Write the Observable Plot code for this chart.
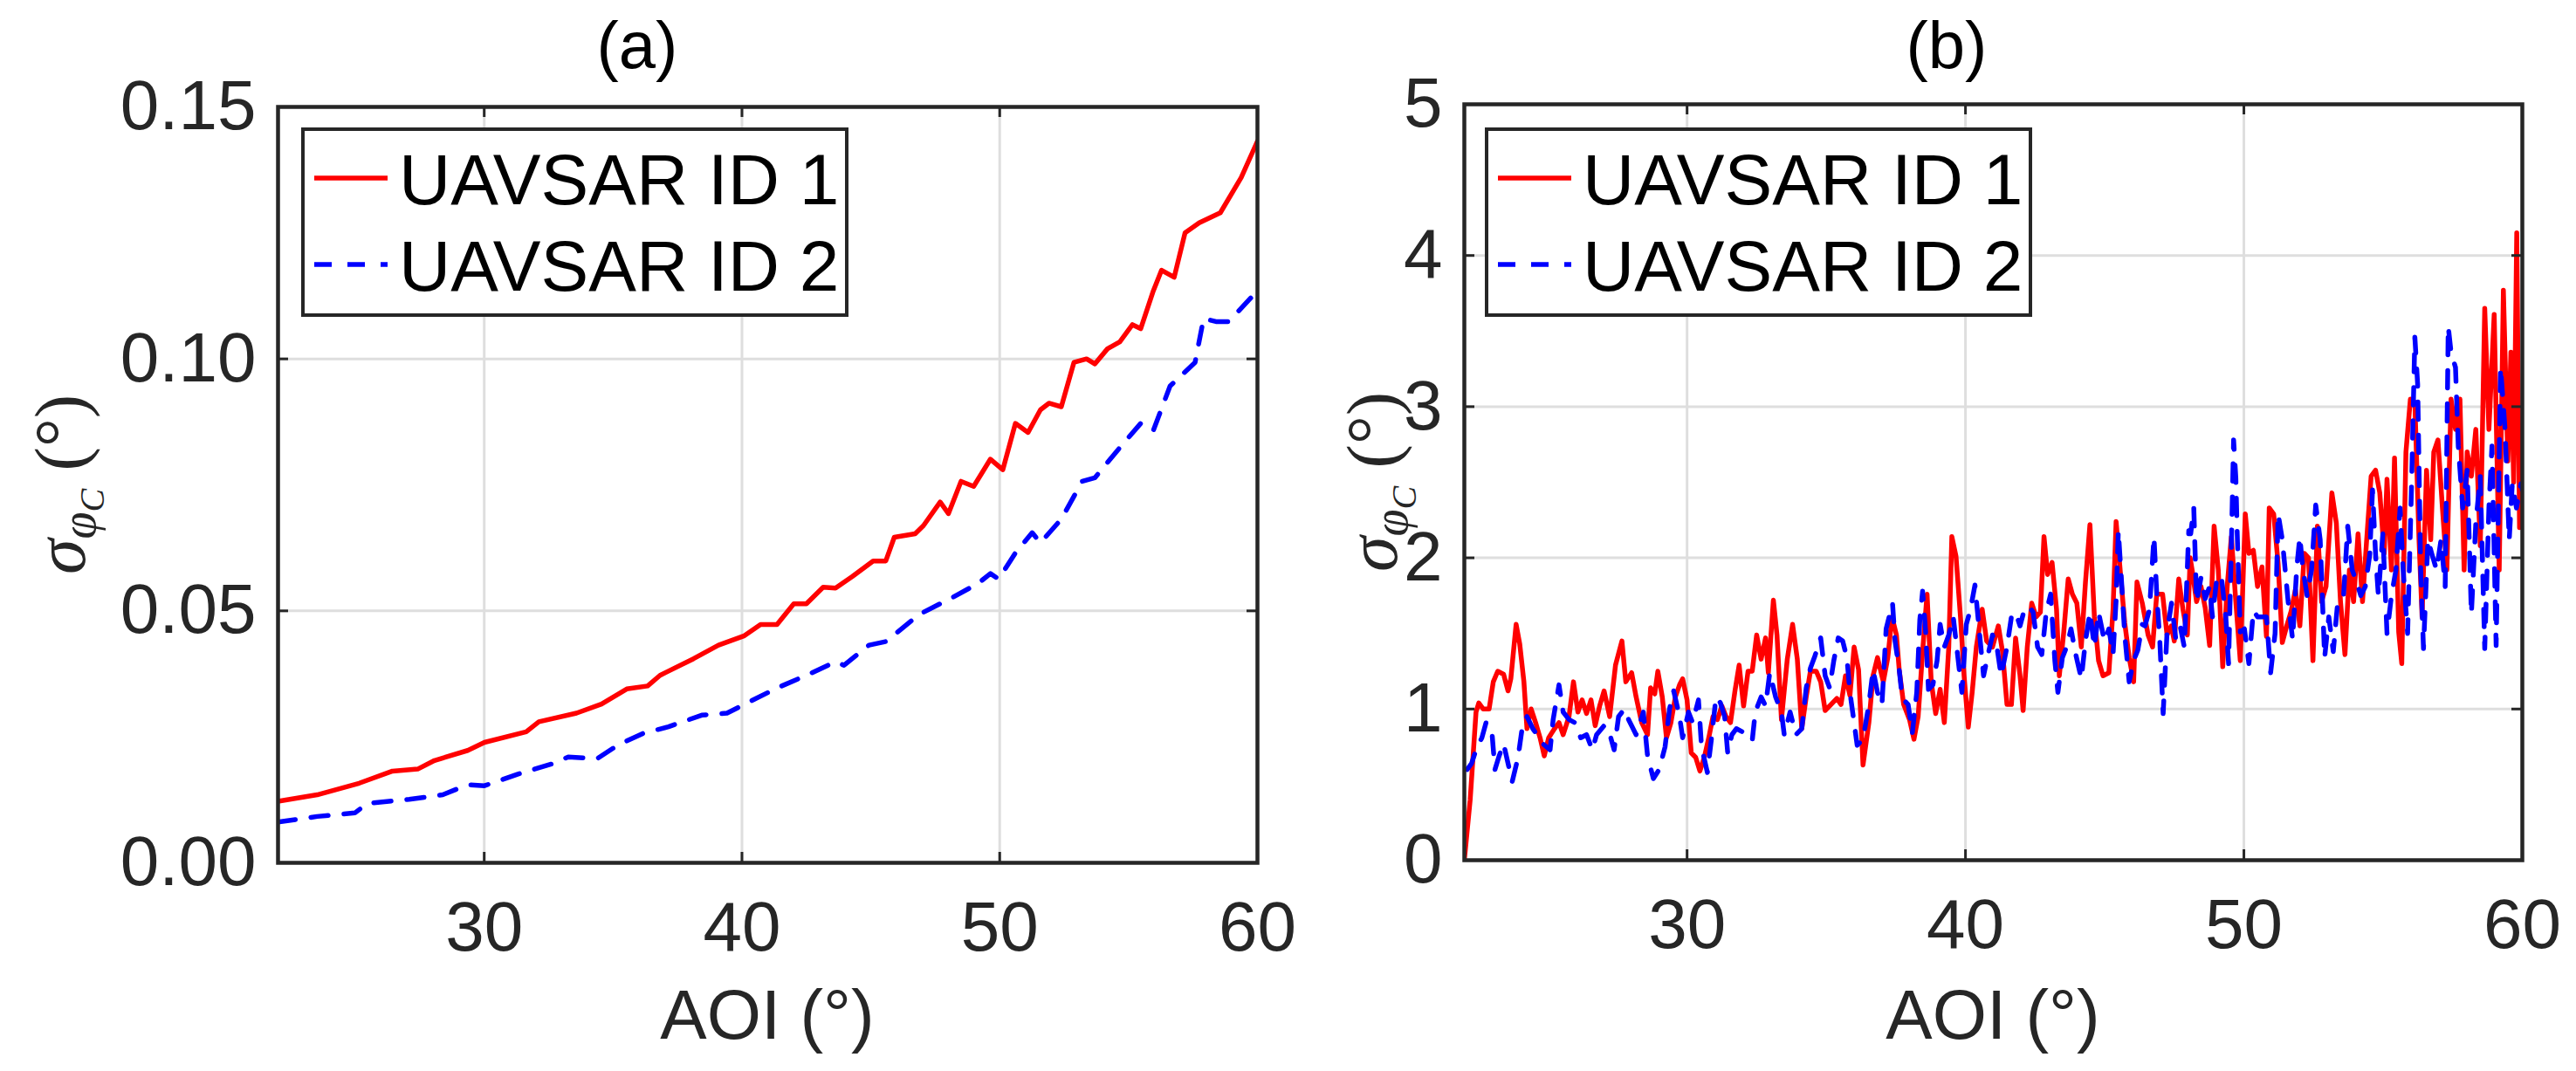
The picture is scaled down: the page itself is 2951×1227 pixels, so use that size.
<!DOCTYPE html>
<html>
<head>
<meta charset="utf-8">
<script src="https://cdn.jsdelivr.net/npm/d3@7"></script>
<script src="https://cdn.jsdelivr.net/npm/@observablehq/plot@0.6"></script>
<style>
  body { margin: 0; background: #fff; }
  #fig { display: flex; width: 2951px; height: 1227px; }
</style>
</head>
<body>
<div id="fig"></div>
<script>
// ---- data ----
const seriesNames = ["UAVSAR ID 1", "UAVSAR ID 2"];
const aoiTicks = [30, 40, 50, 60];
const aoiDomain = [22, 60];
const yTicksA = [0, 0.05, 0.10, 0.15];
const yTicksB = [0, 1, 2, 3, 4, 5];

// (a) UAVSAR ID 1
const aoiA1 = [22.0, 23.52, 25.15, 26.44, 27.42, 28.07, 29.36, 30.01, 31.63, 32.12, 33.58, 34.55, 35.53, 36.34, 36.82, 38.12, 39.09, 40.07, 40.72, 41.36, 42.01, 42.5, 43.15, 43.63, 44.28, 45.09, 45.58, 45.91, 46.72, 47.04, 47.69, 48.01, 48.5, 48.99, 49.64, 50.12, 50.61, 51.1, 51.58, 51.91, 52.39, 52.88, 53.37, 53.69, 54.18, 54.66, 55.15, 55.47, 55.96, 56.28, 56.77, 57.19, 57.74, 58.56, 59.37, 60.0];
const sigA1 = [0.0122, 0.0135, 0.0158, 0.0182, 0.0186, 0.0203, 0.0223, 0.0239, 0.026, 0.028, 0.0297, 0.0315, 0.0345, 0.0351, 0.0372, 0.0405, 0.0432, 0.045, 0.0473, 0.0473, 0.0514, 0.0514, 0.0547, 0.0545, 0.0568, 0.0599, 0.0599, 0.0646, 0.0653, 0.0669, 0.0716, 0.0693, 0.0757, 0.0747, 0.0801, 0.078, 0.0872, 0.0854, 0.0899, 0.0912, 0.0905, 0.0993, 0.1, 0.099, 0.102, 0.1034, 0.1068, 0.106, 0.1135, 0.1176, 0.1162, 0.125, 0.127, 0.129, 0.136, 0.1432];

// (a) UAVSAR ID 2
const aoiA2 = [22.0, 23.52, 24.98, 25.47, 27.09, 28.39, 29.36, 30.01, 31.31, 32.61, 33.26, 34.39, 35.2, 36.17, 37.15, 38.44, 39.42, 40.23, 41.36, 42.5, 43.63, 43.96, 44.93, 45.58, 46.88, 48.18, 49.15, 49.64, 49.96, 50.61, 51.26, 51.58, 52.39, 53.2, 53.69, 54.66, 55.47, 55.96, 56.61, 57.58, 57.91, 58.39, 58.88, 60.0];
const sigA2 = [0.0081, 0.0092, 0.0099, 0.0118, 0.0126, 0.0135, 0.0155, 0.0153, 0.0176, 0.0196, 0.021, 0.0207, 0.0234, 0.0257, 0.027, 0.0293, 0.0297, 0.0318, 0.0347, 0.0372, 0.0399, 0.0392, 0.0432, 0.0439, 0.0493, 0.0527, 0.0554, 0.0574, 0.0563, 0.0615, 0.0655, 0.0635, 0.0682, 0.0757, 0.0764, 0.0824, 0.0872, 0.0858, 0.0946, 0.0993, 0.108, 0.1074, 0.1074, 0.1135];

// (b) UAVSAR ID 1
const aoiB1 = [22.0, 22.21, 22.42, 22.52, 22.68, 22.89, 23.04, 23.2, 23.41, 23.57, 23.67, 23.86, 23.99, 24.14, 24.25, 24.4, 24.56, 24.72, 24.87, 25.03, 25.24, 25.4, 25.55, 25.76, 25.92, 26.08, 26.23, 26.39, 26.55, 26.7, 26.86, 27.02, 27.22, 27.43, 27.66, 27.8, 28.01, 28.17, 28.37, 28.58, 28.69, 28.84, 28.95, 29.11, 29.26, 29.42, 29.58, 29.73, 29.84, 30.0, 30.15, 30.31, 30.46, 30.62, 30.78, 30.93, 31.09, 31.25, 31.4, 31.56, 31.72, 31.87, 32.03, 32.19, 32.34, 32.5, 32.66, 32.82, 32.92, 33.1, 33.23, 33.39, 33.6, 33.79, 33.96, 34.12, 34.28, 34.43, 34.64, 34.8, 34.96, 35.17, 35.38, 35.53, 35.69, 35.85, 36.0, 36.16, 36.32, 36.53, 36.68, 36.84, 37.05, 37.21, 37.36, 37.52, 37.62, 37.78, 37.99, 38.15, 38.3, 38.46, 38.62, 38.77, 38.93, 39.09, 39.24, 39.4, 39.51, 39.66, 39.82, 39.95, 40.1, 40.24, 40.39, 40.6, 40.76, 40.97, 41.18, 41.33, 41.49, 41.65, 41.8, 41.96, 42.07, 42.22, 42.38, 42.54, 42.69, 42.82, 42.95, 43.11, 43.27, 43.37, 43.53, 43.69, 43.84, 44.0, 44.16, 44.31, 44.47, 44.63, 44.78, 44.94, 45.15, 45.3, 45.41, 45.57, 45.72, 45.88, 46.04, 46.16, 46.35, 46.56, 46.72, 46.87, 47.08, 47.24, 47.39, 47.5, 47.66, 47.81, 47.97, 48.07, 48.14, 48.3, 48.46, 48.61, 48.77, 48.93, 49.08, 49.24, 49.4, 49.55, 49.71, 49.87, 50.05, 50.18, 50.34, 50.49, 50.65, 50.81, 50.91, 51.07, 51.23, 51.38, 51.54, 51.7, 51.85, 52.01, 52.17, 52.32, 52.48, 52.64, 52.79, 52.95, 53.16, 53.32, 53.47, 53.63, 53.79, 53.94, 54.1, 54.26, 54.41, 54.57, 54.73, 54.88, 55.04, 55.14, 55.3, 55.41, 55.56, 55.67, 55.82, 55.98, 56.14, 56.29, 56.4, 56.56, 56.71, 56.82, 56.97, 57.13, 57.29, 57.44, 57.6, 57.76, 57.91, 58.02, 58.17, 58.33, 58.49, 58.65, 58.8, 58.99, 59.17, 59.32, 59.48, 59.59, 59.69, 59.8, 59.9, 60.0];
const sigB1 = [0.0, 0.4, 0.98, 1.04, 1.0, 1.0, 1.18, 1.25, 1.23, 1.12, 1.2, 1.56, 1.43, 1.18, 0.87, 1.0, 0.91, 0.81, 0.69, 0.81, 0.87, 0.91, 0.83, 0.95, 1.18, 0.98, 1.06, 0.97, 1.06, 0.89, 1.02, 1.12, 0.95, 1.29, 1.45, 1.18, 1.24, 1.08, 0.91, 0.83, 1.14, 1.1, 1.25, 1.08, 0.81, 0.91, 1.08, 1.16, 1.2, 1.06, 0.71, 0.68, 0.59, 0.68, 0.81, 0.95, 0.93, 1.02, 0.95, 0.91, 1.12, 1.29, 1.02, 1.25, 1.25, 1.49, 1.33, 1.47, 1.24, 1.72, 1.49, 0.93, 1.33, 1.56, 1.33, 0.87, 1.08, 1.25, 1.25, 1.18, 0.99, 1.03, 1.07, 1.03, 1.22, 1.09, 1.41, 1.26, 0.63, 0.91, 1.22, 1.34, 1.18, 1.34, 1.61, 1.49, 1.26, 1.03, 0.93, 0.8, 0.95, 1.38, 1.76, 1.18, 0.97, 1.13, 0.91, 1.41, 2.14, 2.01, 1.61, 1.22, 0.88, 1.11, 1.41, 1.66, 1.45, 1.41, 1.55, 1.38, 1.03, 1.03, 1.47, 1.22, 0.99, 1.41, 1.7, 1.61, 1.64, 2.14, 1.89, 1.97, 1.66, 1.22, 1.51, 1.86, 1.76, 1.7, 1.41, 1.84, 2.22, 1.61, 1.32, 1.22, 1.24, 1.66, 2.24, 1.89, 1.57, 1.34, 1.18, 1.84, 1.7, 1.49, 1.41, 1.76, 1.76, 1.49, 1.55, 1.45, 1.86, 1.66, 1.49, 2.0, 1.92, 1.71, 1.81, 1.67, 1.42, 2.21, 1.92, 1.28, 1.81, 2.14, 1.71, 1.32, 2.29, 2.03, 2.05, 1.81, 1.94, 1.48, 2.33, 2.29, 1.96, 1.44, 1.55, 1.65, 1.79, 1.55, 2.03, 2.0, 1.32, 2.21, 1.71, 1.81, 2.43, 2.23, 1.71, 1.36, 1.92, 1.71, 2.16, 1.71, 2.12, 2.54, 2.58, 2.43, 2.03, 2.52, 1.92, 2.66, 1.51, 1.3, 2.7, 3.05, 3.03, 2.12, 1.61, 2.58, 2.12, 2.7, 2.78, 2.33, 1.92, 3.05, 2.85, 3.05, 1.92, 2.7, 2.54, 2.85, 2.08, 3.65, 2.85, 3.61, 1.92, 3.77, 2.64, 3.36, 2.5, 4.15, 2.2, 2.7];

// (b) UAVSAR ID 2
const aoiB2 = [22.1, 22.26, 22.42, 22.63, 22.78, 22.99, 23.1, 23.25, 23.41, 23.57, 23.72, 23.93, 24.09, 24.25, 24.46, 24.61, 24.82, 25.08, 25.19, 25.4, 25.55, 25.76, 25.97, 26.18, 26.39, 26.6, 26.75, 27.02, 27.17, 27.38, 27.54, 27.75, 27.9, 28.17, 28.43, 28.58, 28.79, 29.0, 29.21, 29.37, 29.52, 29.73, 29.84, 30.05, 30.2, 30.41, 30.52, 30.73, 30.88, 31.04, 31.2, 31.35, 31.46, 31.61, 31.77, 31.98, 32.19, 32.34, 32.45, 32.66, 32.82, 32.97, 33.18, 33.39, 33.49, 33.7, 33.91, 34.12, 34.28, 34.43, 34.59, 34.8, 34.96, 35.12, 35.27, 35.43, 35.59, 35.74, 35.85, 36.0, 36.11, 36.32, 36.53, 36.68, 36.84, 37.0, 37.15, 37.38, 37.47, 37.62, 37.73, 37.94, 38.09, 38.25, 38.36, 38.46, 38.57, 38.67, 38.83, 38.98, 39.09, 39.24, 39.4, 39.56, 39.71, 39.87, 40.03, 40.18, 40.34, 40.5, 40.65, 40.81, 40.97, 41.13, 41.28, 41.49, 41.65, 41.8, 41.96, 42.12, 42.27, 42.43, 42.59, 42.74, 42.9, 43.06, 43.21, 43.32, 43.48, 43.63, 43.79, 43.95, 44.16, 44.31, 44.47, 44.63, 44.78, 44.99, 45.15, 45.3, 45.41, 45.49, 45.62, 45.72, 45.88, 46.04, 46.19, 46.35, 46.45, 46.61, 46.77, 46.87, 46.98, 47.1, 47.24, 47.4, 47.55, 47.71, 47.86, 48.02, 48.09, 48.2, 48.3, 48.46, 48.61, 48.77, 48.87, 49.03, 49.19, 49.35, 49.45, 49.55, 49.63, 49.71, 49.76, 49.87, 50.02, 50.18, 50.34, 50.49, 50.65, 50.81, 50.96, 51.12, 51.23, 51.38, 51.59, 51.75, 51.9, 52.01, 52.11, 52.27, 52.43, 52.58, 52.74, 52.9, 53.05, 53.21, 53.37, 53.58, 53.73, 53.89, 54.05, 54.2, 54.36, 54.52, 54.62, 54.73, 54.83, 54.99, 55.14, 55.3, 55.46, 55.61, 55.72, 55.88, 56.03, 56.14, 56.24, 56.35, 56.45, 56.61, 56.76, 56.92, 57.08, 57.23, 57.34, 57.44, 57.6, 57.7, 57.86, 58.02, 58.17, 58.33, 58.49, 58.65, 58.8, 58.91, 59.06, 59.22, 59.38, 59.53, 59.64, 59.79, 59.95, 60.0];
const sigB2 = [0.6, 0.64, 0.73, 0.81, 0.91, 0.85, 0.6, 0.69, 0.77, 0.64, 0.52, 0.68, 0.89, 0.95, 0.87, 0.83, 0.77, 0.73, 0.93, 1.16, 0.98, 0.93, 0.91, 0.81, 0.83, 0.73, 0.83, 0.89, 0.87, 0.73, 0.95, 1.0, 0.93, 0.83, 0.98, 0.69, 0.54, 0.6, 0.75, 1.0, 1.12, 0.95, 0.81, 0.98, 0.91, 1.06, 0.75, 0.58, 0.81, 1.08, 1.04, 0.95, 0.71, 0.83, 0.87, 0.85, 0.81, 0.79, 0.98, 1.08, 1.02, 1.24, 1.08, 0.98, 0.83, 0.98, 0.83, 0.87, 1.14, 1.27, 1.35, 1.47, 1.22, 1.14, 1.32, 1.47, 1.45, 1.34, 1.11, 0.91, 0.76, 0.8, 1.03, 1.26, 1.11, 1.03, 1.53, 1.7, 1.45, 1.26, 1.07, 1.03, 0.84, 1.11, 1.59, 1.78, 1.51, 1.13, 1.16, 1.32, 1.56, 1.41, 1.49, 1.61, 1.37, 1.11, 1.56, 1.66, 1.82, 1.51, 1.22, 1.36, 1.49, 1.41, 1.22, 1.41, 1.61, 1.64, 1.55, 1.66, 1.68, 1.64, 1.41, 1.36, 1.64, 1.76, 1.32, 1.11, 1.34, 1.41, 1.53, 1.37, 1.2, 1.45, 1.64, 1.41, 1.64, 1.45, 1.53, 1.36, 1.72, 2.18, 1.8, 1.49, 1.18, 1.32, 1.39, 1.56, 1.55, 1.66, 2.14, 1.76, 1.45, 0.97, 1.51, 1.7, 1.47, 1.55, 1.41, 2.18, 2.16, 2.33, 1.71, 1.87, 1.73, 1.81, 1.61, 1.87, 1.88, 1.61, 1.3, 2.08, 2.78, 2.53, 2.16, 1.51, 1.53, 1.3, 1.65, 1.61, 1.61, 1.61, 1.24, 1.5, 2.29, 2.12, 1.71, 1.46, 1.94, 2.14, 1.94, 1.75, 1.92, 2.35, 2.12, 1.34, 1.61, 1.38, 1.71, 1.75, 2.21, 1.92, 1.84, 1.75, 1.81, 2.02, 2.45, 2.02, 1.75, 2.16, 1.5, 1.75, 1.92, 2.33, 1.92, 1.5, 2.54, 3.46, 3.15, 1.92, 1.4, 2.12, 2.02, 1.92, 2.12, 1.81, 3.53, 3.36, 3.26, 2.74, 2.33, 2.58, 1.63, 2.23, 2.54, 1.4, 2.33, 2.74, 1.42, 3.26, 2.85, 2.12, 2.49, 2.33, 2.49, 2.45];

// ---- styling ----
const H = 1227;
const INK = "#262626";
const GRID = "#dedede";
const RED = "#ff0000";
const BLUE = "#0000ff";
const DASH = "20,18";
const LW = 5.5;
const SANS = "'Liberation Sans', Arial, Helvetica, sans-serif";
const SERIF = "'Liberation Serif', 'Times New Roman', serif";

const rows = (xs, ys) => xs.map((aoi, i) => ({aoi, sigma: ys[i]}));

function panel({width, marginLeft, marginRight, marginTop, marginBottom, yDomain, yTicks, yFormat, s1, s2, title, legendX, ylabelX}) {
  const fw = width - marginLeft - marginRight;
  const fh = H - marginTop - marginBottom;
  const inner = aoiTicks.slice(0, -1);
  const innerY = yTicks.slice(1, -1);
  const tick = {stroke: INK, strokeWidth: 3};

  const chart = Plot.plot({
    width, height: H, marginLeft, marginRight, marginTop, marginBottom,
    style: {background: "white", fontFamily: SANS, fontSize: "80px", color: INK, overflow: "visible"},
    x: {domain: aoiDomain},
    y: {domain: yDomain},
    marks: [
      Plot.gridX(inner, {stroke: GRID, strokeOpacity: 1, strokeWidth: 3}),
      Plot.gridY(innerY, {stroke: GRID, strokeOpacity: 1, strokeWidth: 3}),
      Plot.line(s1, {x: "aoi", y: "sigma", stroke: RED, strokeWidth: LW, clip: true}),
      Plot.line(s2, {x: "aoi", y: "sigma", stroke: BLUE, strokeWidth: LW, strokeDasharray: DASH, clip: true}),
      // inward ticks on all four sides, like a boxed MATLAB axes
      Plot.ruleX(inner, {...tick, insetTop: fh - 12}),
      Plot.ruleX(inner, {...tick, insetBottom: fh - 12}),
      Plot.ruleY(innerY, {...tick, insetRight: fw - 12}),
      Plot.ruleY(innerY, {...tick, insetLeft: fw - 12}),
      Plot.frame({stroke: INK, strokeWidth: 4.5}),
      Plot.axisX(aoiTicks, {tickSize: 0, tickPadding: 44, fontSize: 80, label: null}),
      Plot.axisY(yTicks, {tickSize: 0, tickPadding: 25, fontSize: 80, tickFormat: yFormat, label: null})
    ]
  });

  const svg = d3.select(chart);

  svg.append("text")
    .attr("x", 730).attr("y", 78)
    .attr("text-anchor", "middle")
    .attr("font-family", SANS).attr("font-size", 76).attr("fill", "#000")
    .text(title);

  svg.append("text")
    .attr("x", marginLeft + fw / 2).attr("y", 1190)
    .attr("text-anchor", "middle")
    .attr("font-family", SANS).attr("font-size", 80).attr("fill", INK)
    .text("AOI (°)");

  const yl = svg.append("text")
    .attr("transform", `translate(${ylabelX},${marginTop + fh / 2}) rotate(-90)`)
    .attr("text-anchor", "middle")
    .attr("font-family", SERIF).attr("fill", INK);
  yl.append("tspan").attr("font-size", 82).attr("font-style", "italic").text("σ");
  yl.append("tspan").attr("font-size", 56).attr("font-style", "italic").attr("dy", 12).text("φ");
  yl.append("tspan").attr("font-size", 40).attr("font-style", "italic").attr("dy", 10).text("C");
  yl.append("tspan").attr("font-size", 82).attr("dy", -22).text(" (°)");

  // legend box
  const lg = svg.append("g");
  lg.append("rect")
    .attr("x", legendX).attr("y", 148).attr("width", 623).attr("height", 213)
    .attr("fill", "white").attr("stroke", INK).attr("stroke-width", 4);
  [[RED, null], [BLUE, DASH]].forEach(([color, dash], i) => {
    const cy = 204 + i * 99;
    lg.append("line")
      .attr("x1", legendX + 13).attr("x2", legendX + 97)
      .attr("y1", cy).attr("y2", cy)
      .attr("stroke", color).attr("stroke-width", LW)
      .attr("stroke-dasharray", dash);
    lg.append("text")
      .attr("x", legendX + 110).attr("y", cy + 30)
      .attr("text-anchor", "start")
      .attr("font-family", SANS).attr("font-size", 82).attr("fill", "#000")
      .text(seriesNames[i]);
  });

  return chart;
}

const fig = document.getElementById("fig");

fig.append(panel({
  width: 1500, marginLeft: 318, marginRight: 60, marginTop: 122, marginBottom: 239,
  yDomain: [0, 0.15], yTicks: yTicksA, yFormat: d3.format(".2f"),
  s1: rows(aoiA1, sigA1), s2: rows(aoiA2, sigA2),
  title: "(a)", legendX: 347, ylabelX: 97
}));

fig.append(panel({
  width: 1451, marginLeft: 177, marginRight: 62, marginTop: 119, marginBottom: 242,
  yDomain: [0, 5], yTicks: yTicksB, yFormat: d => d,
  s1: rows(aoiB1, sigB1), s2: rows(aoiB2, sigB2),
  title: "(b)", legendX: 203, ylabelX: 100
}));
</script>
</body>
</html>
